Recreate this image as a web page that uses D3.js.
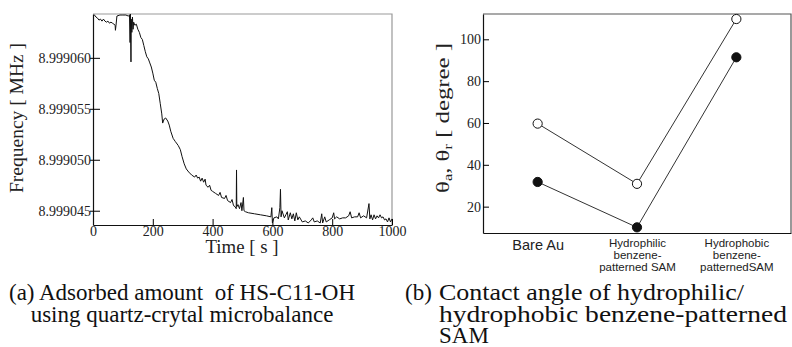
<!DOCTYPE html>
<html>
<head>
<meta charset="utf-8">
<script src="https://cdn.jsdelivr.net/npm/d3@7"></script>
<style>
  body { margin: 0; background: #fff; }
  svg { display: block; }
</style>
</head>
<body>
<svg id="chart" width="792" height="347"></svg>
<script>
// (a) QCM trace: time [s] and frequency [MHz]
const qcmTime = [
  0, 5, 10, 15, 20, 25, 30, 35, 40, 45, 50, 55, 60, 65, 70, 74, 75, 77, 80, 90,
  100, 110, 118, 122, 124, 125, 127, 128, 130, 132, 134, 136, 140, 145, 150, 155, 160, 165, 170, 175,
  180, 185, 190, 195, 200, 205, 210, 215, 220, 225, 230, 233, 238, 243, 250, 255, 260, 268, 275, 285,
  292, 298, 305, 312, 320, 330, 340, 345, 350, 355, 360, 365, 370, 375, 378, 385, 390, 395, 400, 410,
  420, 425, 430, 440, 445, 450, 460, 465, 470, 475, 479, 480, 481, 485, 490, 495, 498, 503, 505, 510,
  520, 540, 560, 580, 595, 598, 600, 605, 615, 620, 625, 627, 629, 632, 640, 645, 650, 653, 660, 665,
  670, 675, 680, 685, 690, 700, 710, 720, 730, 735, 740, 750, 760, 765, 768, 775, 780, 790, 800, 805,
  808, 815, 825, 835, 845, 855, 860, 865, 875, 885, 890, 895, 905, 915, 923, 926, 930, 935, 940, 945,
  950, 955, 960, 965, 970, 975, 980, 985, 990, 995, 1000,
];
const qcmFreq = [
  8.9990641, 8.9990642, 8.9990640, 8.9990639, 8.9990637, 8.9990638, 8.9990636, 8.9990638, 8.9990636, 8.9990635,
  8.9990636, 8.9990634, 8.9990635, 8.9990634, 8.9990633, 8.9990632, 8.9990627, 8.9990632, 8.9990641, 8.9990642,
  8.9990642, 8.9990642, 8.9990641, 8.9990642, 8.9990615, 8.9990643, 8.9990596, 8.9990638, 8.9990625, 8.9990640,
  8.9990628, 8.9990635, 8.9990632, 8.9990633, 8.9990628, 8.9990625, 8.9990620, 8.9990618, 8.9990612, 8.9990606,
  8.9990601, 8.9990599, 8.9990595, 8.9990591, 8.9990585, 8.9990578, 8.9990576, 8.9990570, 8.9990565, 8.9990555,
  8.9990545, 8.9990536, 8.9990540, 8.9990541, 8.9990538, 8.9990534, 8.9990528, 8.9990521, 8.9990518, 8.9990514,
  8.9990510, 8.9990503, 8.9990496, 8.9990491, 8.9990488, 8.9990485, 8.9990483, 8.9990485, 8.9990482, 8.9990483,
  8.9990479, 8.9990482, 8.9990478, 8.9990481, 8.9990475, 8.9990473, 8.9990475, 8.9990470, 8.9990469, 8.9990467,
  8.9990465, 8.9990468, 8.9990463, 8.9990462, 8.9990465, 8.9990460, 8.9990458, 8.9990461, 8.9990455, 8.9990454,
  8.9990452, 8.9990490, 8.9990454, 8.9990456, 8.9990452, 8.9990458, 8.9990450, 8.9990463, 8.9990450, 8.9990449,
  8.9990448, 8.9990447, 8.9990446, 8.9990445, 8.9990444, 8.9990453, 8.9990438, 8.9990443, 8.9990444, 8.9990442,
  8.9990453, 8.9990471, 8.9990444, 8.9990450, 8.9990443, 8.9990446, 8.9990449, 8.9990441, 8.9990448, 8.9990442,
  8.9990447, 8.9990440, 8.9990448, 8.9990441, 8.9990444, 8.9990439, 8.9990440, 8.9990438, 8.9990441, 8.9990443,
  8.9990439, 8.9990440, 8.9990438, 8.9990447, 8.9990438, 8.9990444, 8.9990439, 8.9990441, 8.9990443, 8.9990448,
  8.9990442, 8.9990444, 8.9990442, 8.9990443, 8.9990443, 8.9990445, 8.9990449, 8.9990443, 8.9990444, 8.9990444,
  8.9990448, 8.9990443, 8.9990445, 8.9990443, 8.9990457, 8.9990442, 8.9990446, 8.9990441, 8.9990446, 8.9990442,
  8.9990445, 8.9990443, 8.9990446, 8.9990443, 8.9990444, 8.9990441, 8.9990442, 8.9990439, 8.9990443, 8.9990439,
  8.9990442,
];
const qcmTimeTicks = [0, 200, 400, 600, 800, 1000];
const qcmFreqTicks = [8.999045, 8.99905, 8.999055, 8.99906];

// (b) contact angles
const surfaces = ['Bare Au', 'Hydrophilic', 'Hydrophobic'];
const surfaceLabels = [
  ['Bare Au'],
  ['Hydrophilic', 'benzene-', 'patterned SAM'],
  ['Hydrophobic', 'benzene-', 'patternedSAM'],
];
const advancingAngle = [59.7, 30.9, 109.7];
const recedingAngle = [31.8, 10.1, 91.4];
const angleTicks = [20, 40, 60, 80, 100];

const SERIF = 'Liberation Serif';
const SANS = 'Liberation Sans';

const svg = d3.select('#chart');

// the source figure is set a bit wider than the fonts here, so stretch some texts to its widths
function stretch(sel, width) {
  if (width) sel.attr('textLength', width).attr('lengthAdjust', 'spacingAndGlyphs');
  return sel;
}

function drawQcm() {
  const x = d3.scaleLinear().domain([0, 1000]).range([93, 392]);
  const y = d3.scaleLinear().domain([8.9990436, 8.9990643]).range([225, 14]);

  // frame: top/right grey
  svg.append('path')
    .attr('d', `M93,14H392V225`)
    .attr('fill', 'none')
    .attr('stroke', '#999')
    .attr('stroke-width', 1.2);

  const xAxis = svg.append('g')
    .attr('transform', 'translate(0,225)')
    .call(d3.axisBottom(x).tickValues(qcmTimeTicks).tickFormat(d3.format('d'))
      .tickSizeInner(-6).tickSizeOuter(0));
  xAxis.selectAll('text')
    .attr('font-family', SERIF)
    .attr('font-size', 14)
    .attr('fill', '#222')
    .attr('y', 1);

  const yAxis = svg.append('g')
    .attr('transform', 'translate(93,0)')
    .call(d3.axisLeft(y).tickValues(qcmFreqTicks).tickFormat(d3.format('.6f'))
      .tickSizeInner(-7).tickSizeOuter(0).tickPadding(2));
  yAxis.selectAll('text').attr('font-family', SERIF).attr('font-size', 14).attr('fill', '#222');
  yAxis.selectAll('.tick line').attr('x1', -3);

  svg.selectAll('.domain').attr('stroke', '#111').attr('stroke-width', 1.2);

  const line = d3.line()
    .x((d, i) => x(qcmTime[i]))
    .y((d) => y(d));

  svg.append('path')
    .datum(qcmFreq)
    .attr('d', line)
    .attr('fill', 'none')
    .attr('stroke', '#111')
    .attr('stroke-width', 1);

  stretch(svg.append('text')
    .attr('font-family', SERIF)
    .attr('transform', 'translate(23,118) rotate(-90)')
    .attr('text-anchor', 'middle')
    .attr('font-size', 18)
    .attr('fill', '#222')
    .text('Frequency [ MHz ]'), 150);

  stretch(svg.append('text')
    .attr('font-family', SERIF)
    .attr('x', 242)
    .attr('y', 253)
    .attr('text-anchor', 'middle')
    .attr('font-size', 18)
    .attr('fill', '#222')
    .text('Time [ s ]'), 73);
}

function drawAngles() {
  const x = d3.scalePoint().domain(surfaces).range([483, 791]).padding(0.55);
  const y = d3.scaleLinear().domain([7.4, 112.1]).range([233, 14]);

  svg.append('path')
    .attr('d', `M483,14H791V233`)
    .attr('fill', 'none')
    .attr('stroke', '#555')
    .attr('stroke-width', 1.2);

  const yAxis = svg.append('g')
    .attr('transform', 'translate(483,0)')
    .call(d3.axisLeft(y).tickValues(angleTicks).tickSizeInner(-6).tickSizeOuter(0).tickPadding(2));
  yAxis.selectAll('text').attr('font-family', SERIF).attr('font-size', 14).attr('fill', '#222');

  const xAxis = svg.append('g')
    .attr('transform', 'translate(0,233)')
    .call(d3.axisBottom(x).tickSize(0).tickFormat(''));
  xAxis.selectAll('.domain').attr('stroke', '#111').attr('stroke-width', 1.2);
  yAxis.selectAll('.domain').attr('stroke', '#111').attr('stroke-width', 1.2);

  xAxis.selectAll('.tick text').remove();
  xAxis.selectAll('.tick')
    .append('text')
    .attr('font-family', SANS)
    .attr('fill', '#222')
    .attr('text-anchor', 'middle')
    .attr('font-size', (d, i) => (i === 0 ? 14.5 : 11.5))
    .selectAll('tspan')
    .data((d, i) => surfaceLabels[i])
    .join('tspan')
    .attr('x', 0)
    .attr('y', (d, i, nodes) => (nodes.length === 1 ? 17 : 14 + i * 12))
    .text((d) => d);

  const line = d3.line()
    .x((d, i) => x(surfaces[i]))
    .y((d) => y(d));

  [recedingAngle, advancingAngle].forEach((series) => {
    svg.append('path')
      .datum(series)
      .attr('d', line)
      .attr('fill', 'none')
      .attr('stroke', '#333')
      .attr('stroke-width', 1);
  });

  [[advancingAngle, '#fff'], [recedingAngle, '#111']].forEach(([series, fill]) => {
    svg.append('g')
      .selectAll('circle')
      .data(series)
      .join('circle')
      .attr('cx', (d, i) => x(surfaces[i]))
      .attr('cy', (d) => y(d))
      .attr('r', 4.6)
      .attr('fill', fill)
      .attr('stroke', '#111')
      .attr('stroke-width', 1);
  });

  const label = svg.append('text')
    .attr('font-family', SERIF)
    .attr('transform', 'translate(449,118) rotate(-90)')
    .attr('text-anchor', 'middle')
    .attr('font-size', 18)
    .attr('fill', '#222');
  label.append('tspan').text('θ');
  label.append('tspan').attr('font-size', 12).attr('dy', 3).text('a');
  label.append('tspan').attr('dy', -3).text(', θ');
  label.append('tspan').attr('font-size', 12).attr('dy', 3).text('r');
  label.append('tspan').attr('dy', -3).text(' [ degree ]');
  stretch(label, 150);
}

function drawCaptions() {
  const cap = svg.append('g')
    .attr('font-family', SERIF)
    .attr('fill', '#111')
    .attr('font-size', 23);

  cap.append('text').attr('x', 182).attr('y', 300).attr('text-anchor', 'middle')
    .attr('xml:space', 'preserve')
    .text('(a) Adsorbed amount  of HS-C11-OH');
  cap.append('text').attr('x', 182).attr('y', 321.5).attr('text-anchor', 'middle')
    .text('using quartz-crytal microbalance');

  cap.append('text').attr('x', 405).attr('y', 300).text('(b)');
  const lines = ['Contact angle of hydrophilic/', 'hydrophobic benzene-patterned', 'SAM'];
  const widths = [305, 348, null];
  lines.forEach((t, i) => {
    stretch(cap.append('text').attr('x', 439).attr('y', 300 + i * 21.5).text(t), widths[i]);
  });
}

drawQcm();
drawAngles();
drawCaptions();
</script>
</body>
</html>
